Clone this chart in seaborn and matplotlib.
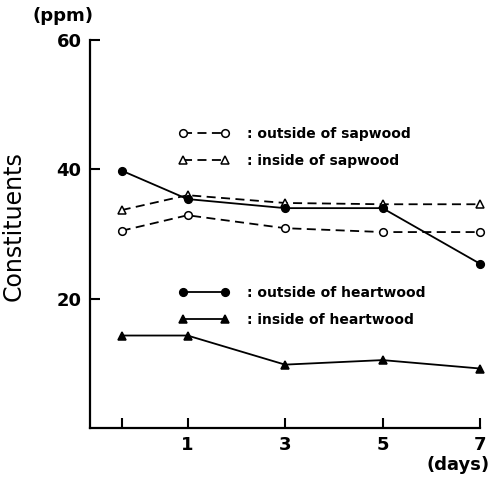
import matplotlib.pyplot as plt
import seaborn as sns
import pandas as pd

# sampling positions on the time axis (first sample is the unlabelled tick before day 1)
day_pos = [-0.35, 1, 3, 5, 7]
tick_labels = ["", "1", "3", "5", "7"]

outside_sapwood = [30.5, 32.9, 30.9, 30.3, 30.3]
inside_sapwood = [33.7, 36.0, 34.8, 34.6, 34.6]
outside_heartwood = [39.8, 35.4, 34.0, 34.0, 25.4]
inside_heartwood = [14.3, 14.3, 9.8, 10.5, 9.2]

series_names = ["outside of sapwood", "inside of sapwood",
                "outside of heartwood", "inside of heartwood"]
series_values = [outside_sapwood, inside_sapwood, outside_heartwood, inside_heartwood]

line_styles = {
    "outside of sapwood": dict(marker="o", markerfacecolor="white", linestyle=(0, (5, 3))),
    "inside of sapwood": dict(marker="^", markerfacecolor="white", linestyle=(0, (5, 3))),
    "outside of heartwood": dict(marker="o", markerfacecolor="black", linestyle="-"),
    "inside of heartwood": dict(marker="^", markerfacecolor="black", linestyle="-"),
}


def collect_data():
    rows = []
    for name, vals in zip(series_names, series_values):
        for d, v in zip(day_pos, vals):
            rows.append([name, d, v])
    return pd.DataFrame(rows, columns=["part", "day", "ppm"])


def visualize_data(df):
    sns.set_style("ticks")
    plt.rcParams["font.family"] = ["DejaVu Sans"]
    for key in ["text.color", "axes.labelcolor", "xtick.color", "ytick.color", "axes.edgecolor"]:
        plt.rcParams[key] = "black"
    fig = plt.figure(figsize=(4.93, 4.78), dpi=100)
    ax = fig.add_axes([90 / 493, 1 - 428 / 478, 390 / 493, 388 / 478])

    for name in series_names:
        sub = df[df["part"] == name]
        sns.lineplot(data=sub, x="day", y="ppm", ax=ax, color="black",
                     markersize=5.5, markeredgecolor="black", markeredgewidth=1.1,
                     linewidth=1.3, label=": " + name, clip_on=False,
                     **line_styles[name])

    ax.set_xlim(-1, 7)
    ax.set_ylim(0, 60)
    ax.set_xticks(day_pos)
    ax.set_xticklabels(tick_labels)
    ax.set_yticks([20, 40, 60])
    ax.set_xlabel("")
    ax.set_ylabel("Constituents", fontsize=17)
    ax.yaxis.set_label_coords((26 - 90) / 390, 0.52)
    ax.tick_params(direction="in", length=7, width=1.5, pad=6,
                   labelsize=13)
    for lab in ax.get_xticklabels() + ax.get_yticklabels():
        lab.set_fontweight("bold")
    sns.despine(ax=ax)
    for sp in ["left", "bottom"]:
        ax.spines[sp].set_linewidth(1.6)

    handles = ax.get_lines()
    labels = [": " + n for n in series_names]
    leg_kw = dict(loc="upper left", bbox_transform=fig.transFigure, frameon=False,
                  numpoints=2, handlelength=3.6, handletextpad=1.3, labelspacing=0.9,
                  borderpad=0, borderaxespad=0,
                  prop={"size": 10, "weight": "bold"})
    leg1 = ax.legend(handles[:2], labels[:2], bbox_to_anchor=(179 / 493, 1 - 127 / 478), **leg_kw)
    ax.add_artist(leg1)
    ax.legend(handles[2:], labels[2:], bbox_to_anchor=(179 / 493, 1 - 286 / 478), **leg_kw)

    fig.text(93 / 493, 1 - 16 / 478, "(ppm)", ha="right", va="center",
             fontsize=13, fontweight="bold")
    fig.text(490 / 493, 1 - 465 / 478, "(days)", ha="right", va="center",
             fontsize=13, fontweight="bold")

    fig.savefig("out.png", dpi=100)


visualize_data(collect_data())
